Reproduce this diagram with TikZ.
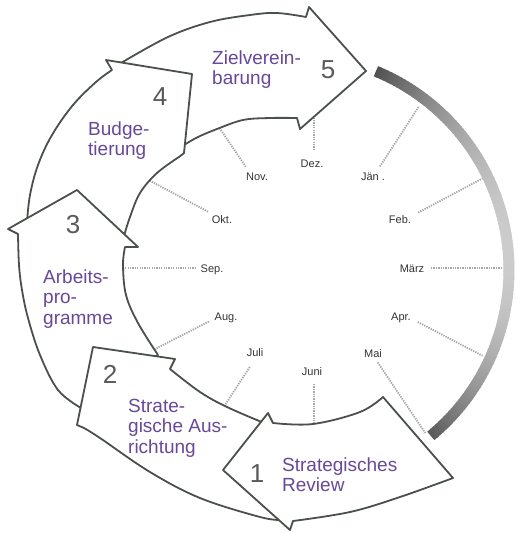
\documentclass[tikz,border=0pt]{standalone}
\usepackage{fontspec}
\setmainfont{Liberation Sans}
\definecolor{purp}{RGB}{104,72,152}
\definecolor{edgecol}{RGB}{74,80,74}
\definecolor{numgray}{RGB}{90,90,90}
\newcommand\mltab[1]{\begin{tabular}[t]{@{}l@{}}#1\end{tabular}}
\begin{document}
\begin{tikzpicture}[x=1pt,y=-1pt,
  arrowshape/.style={draw=edgecol, line width=1.8pt, fill=white, line join=round},
  spoke/.style={black!35, line width=1.8pt, dash pattern=on 1.3pt off 1.1pt},
  month/.style={font=\fontsize{11}{13}\selectfont, text=black!80, inner sep=0, anchor=base},
  stagetext/.style={font=\fontsize{19}{20.5}\selectfont, text=purp, inner sep=0, anchor=base west},
  stagenum/.style={font=\fontsize{26}{30}\selectfont, text=numgray, inner sep=0, anchor=base},
]
\useasboundingbox (0,0) rectangle (517,533);

% spokes of the year clock
\foreach \ang/\rin/\rout in {90/118/190, 57/121/192, 28/118/194, 0/117/189, -27.5/117/190, -56/114/199, -90/116/190, -123/118/190, -153/118/190, 180/118/190, 152/120/190, 124/122/190} {
  \draw[spoke] ({314+\rin*cos(\ang)},{268-\rin*sin(\ang)}) -- ({314+\rout*cos(\ang)},{268-\rout*sin(\ang)});
}

% gray shaded arc on the right
\foreach \i in {0,...,117} {
  \pgfmathsetmacro\a{-50.5+\i}
  \pgfmathsetmacro\b{min(\a+1.4,67.6)}
  \pgfmathsetmacro\m{\a+0.5}
  \pgfmathsetmacro\d{\m>5 ? 20+0.0123*(\m-5)^2 : 20+0.0146*(\m-5)^2}
  \draw[line width=11pt, color=black!\d] ({294+215*cos(\a)},{270-215*sin(\a)}) -- ({294+215*cos(\b)},{270-215*sin(\b)});
}

% arrow 5
\draw[arrowshape] plot[smooth, tension=0.6] coordinates {(121,63) (168,37) (210,22) (250,15) (277,13) (306,17)}
  -- (309,7) -- (366,71) -- (300,129) -- (297,118)
  -- plot[smooth, tension=0.6] coordinates {(297,118) (270,118) (243,120) (217,129) (198,137) (184,145)}
  -- cycle;
% arrow 4
\draw[arrowshape] plot[smooth, tension=0.6] coordinates {(27,222) (30,195) (38,165) (52,135) (73,105) (96,82) (112,70)}
  -- (106,60) -- (192,74) -- (184,153) -- (179,157)
  -- plot[smooth, tension=0.6] coordinates {(179,157) (157,173) (140,193) (130,217) (124,236)}
  -- cycle;
% arrow 3
\draw[arrowshape] plot[smooth, tension=0.6] coordinates {(81,408) (58,390) (40,355) (28,318) (22,290) (19,265) (18,234)}
  -- (8,229) -- (77,190) -- (138,247) -- (125,247)
  -- plot[smooth, tension=0.6] coordinates {(125,247) (123,265) (126,295) (138,323) (158,355)}
  -- cycle;
% arrow 2
\draw[arrowshape] plot[smooth, tension=0.6] coordinates {(282,520) (260,517) (200,498) (150,472) (100,438) (84,428)}
  -- (77,425) -- (93,347) -- (175,359) -- (170,369)
  -- plot[smooth, tension=0.6] coordinates {(170,369) (200,392) (227,407) (264,423)}
  -- cycle;
% arrow 1
\draw[arrowshape] (223,470) -- (268,413) -- (273,423)
  -- plot[smooth, tension=0.6] coordinates {(273,423) (313,424) (360,412) (383,397)}
  -- (453,478)
  -- plot[smooth, tension=0.6] coordinates {(453,478) (400,497) (350,512) (293,521)}
  -- (290,530) -- cycle;

% stage texts
\node[stagetext] (t5) at (212,64) {\mltab{Zielverein-\\barung}};
\node[stagetext] (t4) at (88,135) {\mltab{Budge-\\tierung}};
\node[stagetext] (t3) at (43,283) {\mltab{Arbeits-\\pro-\\gramme}};
\node[stagetext] (t2) at (128,412) {\mltab{Strate-\\gische Aus-\\richtung}};
\node[stagetext] (t1) at (282,471) {\mltab{Strategisches\\Review}};

% stage numbers
\node[stagenum] (n5) at (328,78) {5};
\node[stagenum] (n4) at (160,105) {4};
\node[stagenum] (n3) at (73,233) {3};
\node[stagenum] (n2) at (110,383) {2};
\node[stagenum] (n1) at (257,482) {1};

% months
\node[month] (dez) at (312,167) {Dez.};
\node[month] (jan) at (373,180) {Jän .};
\node[month] (feb) at (400,223) {Feb.};
\node[month] (mar) at (412,272) {März};
\node[month] (apr) at (401,320) {Apr.};
\node[month] (mai) at (373,357) {Mai};
\node[month] (jun) at (312,375) {Juni};
\node[month] (jul) at (255,356) {Juli};
\node[month] (aug) at (226,320) {Aug.};
\node[month] (sep) at (212,272) {Sep.};
\node[month] (okt) at (222,223) {Okt.};
\node[month] (nov) at (257,180) {Nov.};
\end{tikzpicture}
\end{document}
